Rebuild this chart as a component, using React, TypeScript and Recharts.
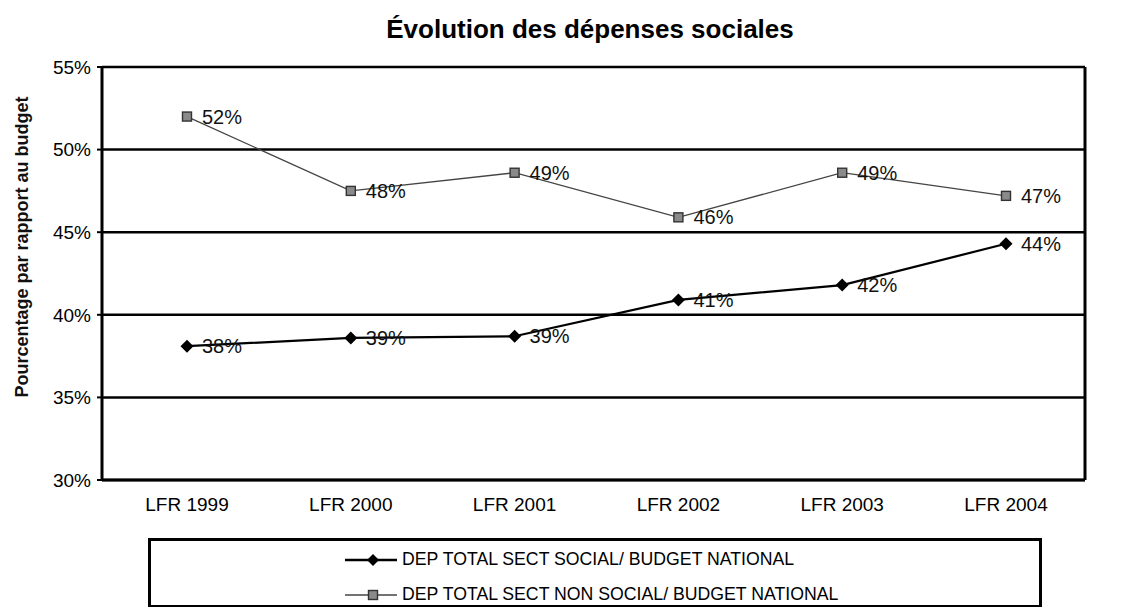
import React from 'react'
import {
  LineChart,
  Line,
  XAxis,
  YAxis,
  CartesianGrid,
  LabelList,
} from 'recharts'

// values (% of national budget)
const categories = ['LFR 1999', 'LFR 2000', 'LFR 2001', 'LFR 2002', 'LFR 2003', 'LFR 2004']
const socialValues = [38.1, 38.6, 38.7, 40.9, 41.8, 44.3]
const nonSocialValues = [52.0, 47.5, 48.6, 45.9, 48.6, 47.2]
const yTicks = [30, 35, 40, 45, 50, 55]

const socialName = 'DEP TOTAL SECT SOCIAL/ BUDGET NATIONAL'
const nonSocialName = 'DEP TOTAL SECT NON SOCIAL/ BUDGET NATIONAL'

const data = categories.map((c, i) => ({
  name: c,
  social: socialValues[i],
  nonSocial: nonSocialValues[i],
}))

const FONT = 'Arial, "Liberation Sans", Helvetica, sans-serif'

function Diamond({ cx, cy }: { cx?: number; cy?: number }) {
  if (cx == null || cy == null) return null
  const r = 6.5
  return (
    <polygon
      points={`${cx},${cy - r} ${cx + r},${cy} ${cx},${cy + r} ${cx - r},${cy}`}
      fill="#000"
    />
  )
}

function Square({ cx, cy }: { cx?: number; cy?: number }) {
  if (cx == null || cy == null) return null
  const s = 9
  return (
    <rect x={cx - s / 2} y={cy - s / 2} width={s} height={s} fill="#8a8a8a" stroke="#333" strokeWidth={1.4} />
  )
}

const pct = (v: number) => `${Math.round(v)}%`

function LegendRow({ marker, label }: { marker: 'diamond' | 'square'; label: string }) {
  return (
    <div style={{ display: 'flex', alignItems: 'center', height: 35 }}>
      <svg width={56} height={16}>
        <line
          x1={2}
          x2={54}
          y1={8}
          y2={8}
          stroke={marker === 'diamond' ? '#000' : '#444'}
          strokeWidth={marker === 'diamond' ? 2.5 : 1.5}
        />
        {marker === 'diamond' ? (
          <polygon points="30,2 36,8 30,14 24,8" fill="#000" />
        ) : (
          <rect x={25.5} y={3.5} width={9} height={9} fill="#8a8a8a" stroke="#333" strokeWidth={1.4} />
        )}
      </svg>
      <span style={{ fontSize: 17.7, marginLeft: 3, color: '#000' }}>{label}</span>
    </div>
  )
}

export default function App() {
  return (
    <div style={{ position: 'relative', width: 1115, height: 599, fontFamily: FONT, background: '#fff' }}>
      <div
        style={{
          position: 'absolute',
          left: 0,
          width: 1164,
          top: 6,
          textAlign: 'center',
          fontSize: 26,
          fontWeight: 'bold',
          color: '#000',
        }}
      >
        Évolution des dépenses sociales
      </div>
      <div
        style={{
          position: 'absolute',
          left: 14,
          top: 239,
          width: 0,
          height: 0,
        }}
      >
        <div
          style={{
            position: 'absolute',
            transform: 'translate(-50%, -50%) rotate(-90deg)',
            whiteSpace: 'nowrap',
            fontSize: 18,
            fontWeight: 'bold',
            color: '#111',
          }}
        >
          Pourcentage par rapport au budget
        </div>
      </div>
      <LineChart
        width={1115}
        height={599}
        data={data}
        margin={{ top: 59, right: 37, bottom: 97, left: 14 }}
      >
        <CartesianGrid vertical={false} stroke="#000" strokeWidth={2.5} />
        <XAxis
          dataKey="name"
          height={30}
          padding={{ left: 85, right: 79 }}
          axisLine={{ stroke: '#000', strokeWidth: 3 }}
          tickLine={false}
          tickSize={0}
          tickMargin={18}
          tick={{ fill: '#000', fontSize: 19, fontFamily: FONT }}
        />
        <YAxis
          width={80}
          domain={[30, 55]}
          ticks={yTicks}
          interval={0}
          tickFormatter={(v: number) => `${v}%`}
          axisLine={{ stroke: '#000', strokeWidth: 3 }}
          tickLine={{ stroke: '#000', strokeWidth: 2 }}
          tickSize={5}
          tickMargin={6}
          tick={{ fill: '#000', fontSize: 19, fontFamily: FONT }}
        />
        <YAxis
          yAxisId="frame"
          orientation="right"
          width={1}
          domain={[30, 55]}
          ticks={yTicks}
          tick={false}
          tickLine={false}
          axisLine={{ stroke: '#000', strokeWidth: 3 }}
        />
        <Line
          dataKey="nonSocial"
          name={nonSocialName}
          type="linear"
          stroke="#444"
          strokeWidth={1.3}
          dot={<Square />}
          isAnimationActive={false}
        >
          <LabelList
            dataKey="nonSocial"
            position="right"
            offset={15}
            formatter={(v: number) => pct(v)}
            style={{ fill: '#111', fontSize: 20, fontFamily: FONT }}
          />
        </Line>
        <Line
          dataKey="social"
          name={socialName}
          type="linear"
          stroke="#000"
          strokeWidth={2.2}
          dot={<Diamond />}
          isAnimationActive={false}
        >
          <LabelList
            dataKey="social"
            position="right"
            offset={15}
            formatter={(v: number) => pct(v)}
            style={{ fill: '#111', fontSize: 20, fontFamily: FONT }}
          />
        </Line>
      </LineChart>
      <div
        style={{
          position: 'absolute',
          left: 140,
          top: 530,
          width: 894,
          height: 70,
          border: '3px solid #000',
          paddingLeft: 192,
          paddingTop: 1,
          boxSizing: 'border-box',
        }}
      >
        <LegendRow marker="diamond" label={socialName} />
        <LegendRow marker="square" label={nonSocialName} />
      </div>
    </div>
  )
}
